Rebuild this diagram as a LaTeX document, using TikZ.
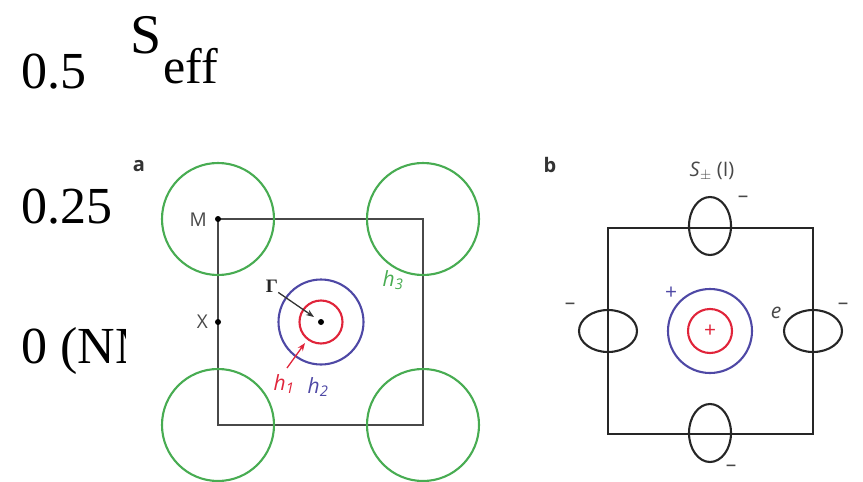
\documentclass[tikz,border=0pt]{standalone}
\usepackage{fontspec}
\setmainfont{Liberation Serif}
\newfontfamily\labelfont{Open Sans}
\usetikzlibrary{arrows.meta}
\definecolor{fsgreen}{RGB}{72,172,82}
\definecolor{fsblue}{RGB}{78,72,165}
\definecolor{fsred}{RGB}{224,36,58}
\definecolor{fsgray}{RGB}{72,72,72}
\begin{document}
\begin{tikzpicture}[x=1pt, y=-1pt,
  big/.style={font=\fontsize{52}{60}\selectfont, inner sep=0pt, anchor=base west},
  lbl/.style={font=\labelfont\fontsize{19}{21}\selectfont, text=fsgray, inner sep=0pt},
  hlbl/.style={lbl, font=\labelfont\itshape\fontsize{21}{23}\selectfont},
  panel/.style={lbl, font=\labelfont\bfseries\fontsize{20}{22}\selectfont, text=black!80},
  sign/.style={lbl, font=\labelfont\fontsize{21}{23}\selectfont},
  pocket/.style={line width=2.1pt},
  zone/.style={line width=1.5pt, draw=fsgray},
  dot/.style={circle, fill=black, inner sep=0pt, minimum size=6pt}]
  \useasboundingbox (0,0) rectangle (863,482);
  \node[big] (half) at (21,88) {0.5};
  \node[big, font=\fontsize{56}{60}\selectfont] (seff) at (130,53) {S};
  \node[big, font=\fontsize{50}{60}\selectfont] (eff) at (163,83) {eff};
  \node[big] (quart) at (21,223) {0.25};
  \begin{scope}
    \clip (0,300) rectangle (125,400);
    \node[big] (zero) at (21,363) {0 (NM)};
  \end{scope}
  % panel a
  \node[panel] (a) at (139,166) {a};
  \coordinate (aM) at (218,219);
  \coordinate (aTR) at (423,219);
  \coordinate (aBL) at (218,425);
  \coordinate (aBR) at (423,425);
  \draw[zone] (aM) rectangle (aBR);
  \foreach \c in {aM,aTR,aBL,aBR}
    \draw[pocket, fsgreen] (\c) circle (56);
  \node[dot] (Mdot) at (aM) {};
  \node[dot] (Xdot) at (218,322) {};
  \node[dot] (Gdot) at (321,322) {};
  \draw[pocket, fsblue] (Gdot) circle (42.5);
  \draw[pocket, fsred] (Gdot) circle (21.5);
  \node[lbl, anchor=east] (Mlbl) at (207,220) {M};
  \node[lbl, anchor=east] (Xlbl) at (208,322) {X};
  \node[inner sep=0pt, font=\bfseries\fontsize{19}{21}\selectfont, text=black!85] (G) at (272,286) {Γ};
  \coordinate (h1tail) at (287,368);
  \draw[-{Stealth[length=8pt]}, line width=1.3pt, black!80] (G.south east) -- (314,317);
  \draw[-{Stealth[length=8pt]}, line width=1.3pt, fsred] (h1tail) -- (305,343);
  \node[hlbl, text=fsred] (h1) at (284,384) {h\textsubscript{1}};
  \node[hlbl, text=fsblue] (h2) at (318,387) {h\textsubscript{2}};
  \node[hlbl, text=fsgreen] (h3) at (393,280) {h\textsubscript{3}};
  % panel b
  \node[panel] (b) at (550,165) {b};
  \node[lbl, font=\labelfont\fontsize{20}{22}\selectfont] (spm) at (712,171) {\textit{S}\textsubscript{$\pm$} (I)};
  \coordinate (bTL) at (608,228);
  \coordinate (bBR) at (813,434);
  \draw[line width=1.5pt, black!85] (bTL) rectangle (bBR);
  \coordinate (eT) at (710,226);
  \coordinate (eB) at (710,433);
  \coordinate (eL) at (608,331);
  \coordinate (eR) at (813,331);
  \coordinate (bG) at (710,331);
  \draw[pocket, black!85] (eT) ellipse (21 and 29);
  \draw[pocket, black!85] (eB) ellipse (21 and 29);
  \draw[pocket, black!85] (eL) ellipse (29 and 21);
  \draw[pocket, black!85] (eR) ellipse (29 and 21);
  \draw[pocket, fsblue] (bG) circle (42);
  \draw[pocket, fsred] (bG) circle (22);
  \node[sign, text=fsred] (pr) at (bG) {+};
  \node[sign, text=fsblue] (pb) at (671,293) {+};
  \node[sign] (mT) at (743,199) {–};
  \node[sign] (mL) at (570,306) {–};
  \node[sign] (mR) at (843,306) {–};
  \node[sign] (mB) at (731,468) {–};
  \node[hlbl, text=fsgray] (e) at (776,313) {e};
\end{tikzpicture}
\end{document}
